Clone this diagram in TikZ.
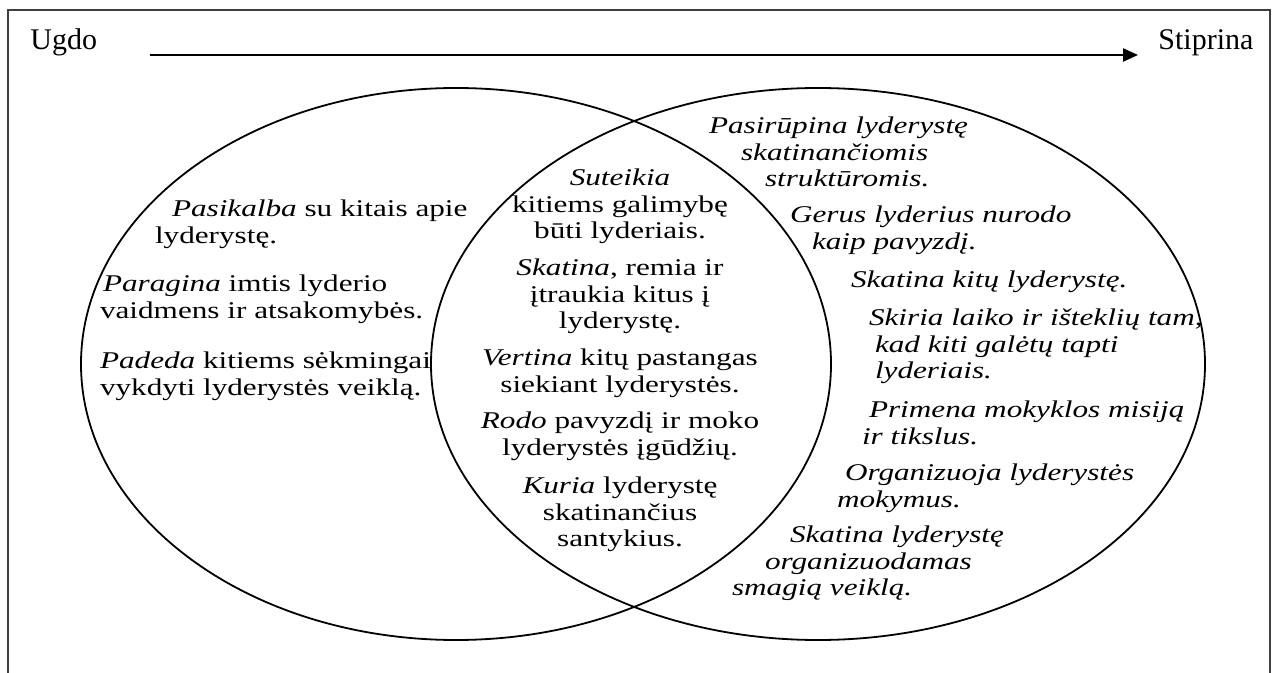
\documentclass[tikz,border=0pt]{standalone}
\usepackage{fontspec}
\setmainfont{Liberation Serif}[FakeStretch=1.3]
\newfontfamily\hdrfont{Liberation Serif}
\usetikzlibrary{arrows.meta}
\begin{document}
\begin{tikzpicture}[x=0.5pt,y=-0.5pt,
  para/.style={inner sep=0pt, outer sep=0pt, font=\fontsize{12}{13.3}\selectfont, anchor=north west, align=left},
  rpara/.style={para, font=\fontsize{12}{13.3}\selectfont\itshape},
  mid/.style={para, anchor=north, align=center},
  hdr/.style={inner sep=0pt, font=\hdrfont\fontsize{15}{17}\selectfont, anchor=base west},
  venn/.style={draw=black, line width=0.9pt},
  arr/.style={line width=1.2pt, -{Triangle[length=7.5pt,width=6.5pt]}},
  frame/.style={line width=1.4pt, draw=black!75}]
\useasboundingbox (0,0) rectangle (1278,673);
% frame
\draw[frame] (8,673) -- (8,10) -- (1270,10) -- (1270,673);
% header
\node[hdr] (ugdo) at (30,50) {Ugdo};
\node[hdr] (stiprina) at (1158,50) {Stiprina};
\draw[arr, shorten <=26.5pt, shorten >=10pt] ([yshift=-2.5pt]ugdo.base east) -- ([yshift=-2.5pt]stiprina.base west);
% venn
\draw[venn] (456,364) ellipse [x radius=187.5pt, y radius=138pt];
\draw[venn] (818,364) ellipse [x radius=193.5pt, y radius=138pt];
% left
\node[para] (l1) at (155,198) {\strut\hspace*{8.5pt}\textit{Pasikalba} su kitais apie\\lyderystę.};
\node[para] (l2) at (100,273) {\strut\hspace*{1.5pt}\textit{Paragina} imtis lyderio\\vaidmens ir atsakomybės.};
\node[para] (l3) at (100,350) {\strut\textit{Padeda} kitiems sėkmingai\\vykdyti lyderystės veiklą.};
% middle
\node[mid] (m1) at (620,167) {\strut\textit{Suteikia}\\kitiems galimybę\\būti lyderiais.};
\node[mid] (m2) at (620,257) {\strut\textit{Skatina}, remia ir\\įtraukia kitus į\\lyderystę.};
\node[mid] (m3) at (620,347) {\strut\textit{Vertina} kitų pastangas\\siekiant lyderystės.};
\node[mid] (m4) at (620,410) {\strut\textit{Rodo} pavyzdį ir moko\\lyderystės įgūdžių.};
\node[mid] (m5) at (620,475) {\strut\textit{Kuria} lyderystę\\skatinančius\\santykius.};
% right
\node[rpara] (r1) at (709,115) {\strut Pasirūpina lyderystę\\\hspace*{16pt}skatinančiomis\\\hspace*{28pt}struktūromis.};
\node[rpara] (r2) at (790,204) {\strut Gerus lyderius nurodo\\\hspace*{11pt}kaip pavyzdį.};
\node[rpara] (r3) at (851,269) {\strut Skatina kitų lyderystę.};
\node[rpara] (r4) at (869,307) {\strut Skiria laiko ir išteklių tam,\\\hspace*{3pt}kad kiti galėtų tapti\\\hspace*{3pt}lyderiais.};
\node[rpara] (r5) at (862,399) {\strut\hspace*{3.5pt}Primena mokyklos misiją\\ir tikslus.};
\node[rpara] (r6) at (837,462) {\strut\hspace*{4pt}Organizuoja lyderystės\\mokymus.};
\node[rpara] (r7) at (732,524) {\strut\hspace*{29pt}Skatina lyderystę\\\hspace*{16.5pt}organizuodamas\\smagią veiklą.};
\end{tikzpicture}
\end{document}
